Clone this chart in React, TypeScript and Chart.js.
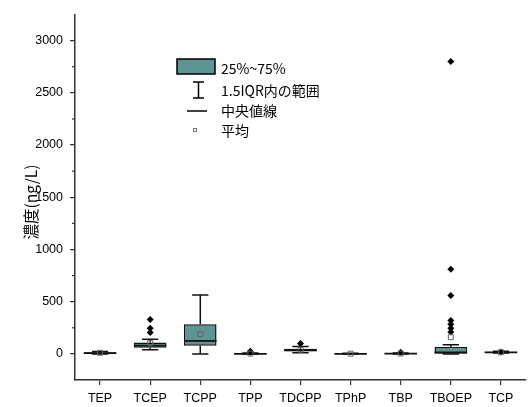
import React, { useEffect, useRef } from 'react';
import { Chart, registerables } from 'chart.js';

Chart.register(...registerables);

// ---- data ----
const categories = ['TEP', 'TCEP', 'TCPP', 'TPP', 'TDCPP', 'TPhP', 'TBP', 'TBOEP', 'TCP'];
const whiskerLow = [0, 40, 0, 0, 10, 0, 0, 0, 8];
const q1 = [3, 60, 79, 0, 25, 0, 0, 2, 10];
const medians = [8, 80, 124, 1, 35, 1, 2, 15, 14];
const q3 = [15, 108, 283, 4, 50, 3, 5, 65, 20];
const whiskerHigh = [22, 140, 564, 8, 70, 5, 8, 88, 25];
const means = [10, 105, 190, 3, 40, 2, 3, 160, 16];
const outliers = [
  [],
  [330, 245, 205],
  [],
  [25, 15],
  [100],
  [],
  [15],
  [2800, 810, 560, 320, 285, 245, 210],
  [18],
];
const yTicks = [0, 500, 1000, 1500, 2000, 2500, 3000];
const yMinorTicks = [250, 750, 1250, 1750, 2250, 2750];
const legendLabels = ['25%~75%', '1.5IQR内の範囲', '中央値線', '平均'];
const yTitle = '濃度(ng/L)';

const TEAL = '#5e9593';
const AXIS = '#333333';
const FONT = '"Liberation Sans", Arial, "Noto Sans CJK JP", sans-serif';
const CJK_FONT = '"Noto Sans CJK JP", "Liberation Sans", sans-serif';

export default function App() {
  const ref = useRef<HTMLCanvasElement>(null);

  useEffect(() => {
    const canvas = ref.current;
    if (!canvas) return;

    const outlierPoints = outliers.flatMap((arr, i) => arr.map((v) => ({ x: categories[i], y: v })));
    const meanPoints = means.map((v, i) => ({ x: categories[i], y: v }));

    const boxPlugin = {
      id: 'boxExtras',
      beforeDatasetsDraw(chart: any) {
        const { ctx } = chart;
        const y = chart.scales.y;
        const meta = chart.getDatasetMeta(0);
        ctx.save();
        ctx.strokeStyle = '#111';
        ctx.lineWidth = 1.5;
        meta.data.forEach((bar: any, i: number) => {
          const x = bar.x;
          const half = bar.width / 4;
          const yHi = y.getPixelForValue(whiskerHigh[i]);
          const yQ3 = y.getPixelForValue(q3[i]);
          const yLo = y.getPixelForValue(whiskerLow[i]);
          const yQ1 = y.getPixelForValue(q1[i]);
          ctx.beginPath();
          ctx.moveTo(x, yQ3);
          ctx.lineTo(x, yHi);
          ctx.moveTo(x - half, yHi);
          ctx.lineTo(x + half, yHi);
          ctx.moveTo(x, yQ1);
          ctx.lineTo(x, yLo);
          ctx.moveTo(x - half, yLo);
          ctx.lineTo(x + half, yLo);
          ctx.stroke();
        });
        ctx.restore();
      },
      afterDatasetDraw(chart: any, args: any) {
        if (args.index !== 0) return;
        const { ctx } = chart;
        const y = chart.scales.y;
        const meta = chart.getDatasetMeta(0);
        ctx.save();
        ctx.strokeStyle = '#111';
        ctx.lineWidth = 1.8;
        meta.data.forEach((bar: any, i: number) => {
          const ym = y.getPixelForValue(medians[i]);
          ctx.beginPath();
          ctx.moveTo(bar.x - bar.width / 2, ym);
          ctx.lineTo(bar.x + bar.width / 2, ym);
          ctx.stroke();
        });
        ctx.restore();
      },
      afterDraw(chart: any) {
        const { ctx, chartArea } = chart;
        const y = chart.scales.y;
        ctx.save();
        // minor ticks
        ctx.strokeStyle = AXIS;
        ctx.lineWidth = 1.2;
        yMinorTicks.forEach((v) => {
          const py = y.getPixelForValue(v);
          ctx.beginPath();
          ctx.moveTo(chartArea.left - 3, py);
          ctx.lineTo(chartArea.left, py);
          ctx.stroke();
        });
        // y title
        ctx.save();
        ctx.translate(31, 202);
        ctx.rotate(-Math.PI / 2);
        ctx.fillStyle = '#000';
        ctx.font = `15.5px ${CJK_FONT}`;
        ctx.textAlign = 'center';
        ctx.textBaseline = 'middle';
        ctx.fillText(yTitle, 0, 0);
        ctx.restore();
        // legend
        ctx.fillStyle = TEAL;
        ctx.fillRect(177, 59, 38, 15);
        ctx.strokeStyle = '#000';
        ctx.lineWidth = 1.5;
        ctx.strokeRect(177, 59, 38, 15);
        ctx.beginPath();
        ctx.moveTo(193, 82);
        ctx.lineTo(204, 82);
        ctx.moveTo(198.5, 82);
        ctx.lineTo(198.5, 98);
        ctx.moveTo(193, 98);
        ctx.lineTo(204, 98);
        ctx.moveTo(187, 111);
        ctx.lineTo(207, 111);
        ctx.stroke();
        ctx.strokeStyle = '#777';
        ctx.lineWidth = 1;
        ctx.strokeRect(193.5, 128.5, 3, 3);
        ctx.fillStyle = '#000';
        ctx.font = `14px ${CJK_FONT}`;
        ctx.textAlign = 'left';
        ctx.textBaseline = 'middle';
        const rowsY = [69, 91, 111, 131];
        legendLabels.forEach((t, i) => ctx.fillText(t, 221, rowsY[i]));
        ctx.restore();
      },
    };

    const chart = new Chart(canvas, {
      type: 'bar',
      data: {
        labels: categories,
        datasets: [
          {
            type: 'bar',
            label: 'box',
            data: categories.map((_, i) => [q1[i], q3[i]]) as any,
            backgroundColor: TEAL,
            borderColor: '#111',
            borderWidth: 1.5,
            borderSkipped: false,
            barPercentage: 0.65,
            categoryPercentage: 1,
            order: 3,
          },
          {
            type: 'line',
            label: 'outliers',
            data: outlierPoints as any,
            showLine: false,
            pointStyle: 'rectRot',
            pointRadius: 3.5,
            pointBackgroundColor: '#000',
            pointBorderColor: '#000',
            pointBorderWidth: 0,
            order: 1,
          },
          {
            type: 'line',
            label: 'mean',
            data: meanPoints as any,
            showLine: false,
            pointStyle: 'rect',
            pointRadius: 3.5,
            pointBackgroundColor: 'rgba(255,255,255,0)',
            pointBorderColor: '#666',
            pointBorderWidth: 1,
            order: 0,
          },
        ],
      },
      options: {
        animation: false,
        responsive: true,
        maintainAspectRatio: false,
        layout: { padding: { left: 0, top: 12, right: 0, bottom: 0 } },
        plugins: {
          legend: { display: false },
          tooltip: { enabled: false },
        },
        scales: {
          x: {
            type: 'category',
            offset: true,
            grid: {
              display: true,
              drawOnChartArea: false,
              drawTicks: true,
              tickLength: 5,
              color: AXIS,
              lineWidth: 1.2,
              offset: false,
            },
            border: { display: true, color: AXIS, width: 1.5 },
            ticks: {
              color: '#000',
              font: { family: FONT, size: 12.5 },
              padding: 6,
              maxRotation: 0,
              autoSkip: false,
            },
            afterFit(scale: any) {
              scale.height = 27;
            },
          },
          y: {
            type: 'linear',
            min: -250,
            max: 3250,
            grid: {
              display: true,
              drawOnChartArea: false,
              drawTicks: true,
              tickLength: 5,
              color: AXIS,
              lineWidth: 1.2,
            },
            border: { display: true, color: AXIS, width: 1.5 },
            ticks: {
              includeBounds: false,
              stepSize: 500,
              color: '#000',
              font: { family: FONT, size: 12.5 },
              padding: 7,
              callback: (v: any) => String(v),
            },
            afterBuildTicks(scale: any) {
              scale.ticks = yTicks.map((v) => ({ value: v }));
            },
            afterFit(scale: any) {
              scale.width = 75;
            },
          },
        },
      },
      plugins: [boxPlugin],
    } as any);

    return () => chart.destroy();
  }, []);

  return (
    <div style={{ position: 'fixed', left: 0, top: 0, width: 531, height: 407, background: '#fff' }}>
      <canvas ref={ref} />
    </div>
  );
}
